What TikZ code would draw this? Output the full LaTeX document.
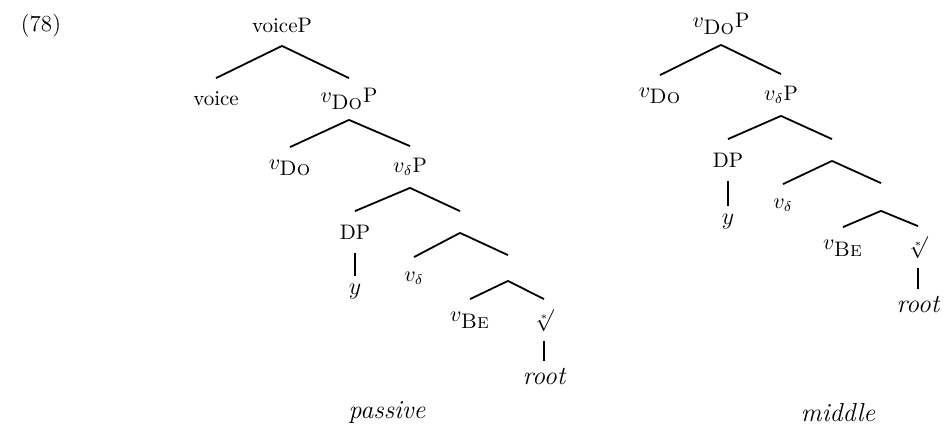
\documentclass[tikz,border=0pt]{standalone}
\begin{document}
\begin{tikzpicture}[x=0.5pt,y=-0.5pt,line width=0.9pt,
  cat/.style={inner sep=0pt,minimum height=20pt,font=\fontsize{10.5}{12}\selectfont},
  leaf/.style={inner sep=0pt,minimum height=15pt,font=\fontsize{13}{15}\selectfont\itshape},
  emptynode/.style={inner sep=0pt,minimum height=10pt},
  caption/.style={font=\fontsize{13}{15}\selectfont\itshape}]

\useasboundingbox (0,0) rectangle (944,429);

\node (ex) at (41,26) {\fontsize{11.5}{13}\selectfont (78)};

%%%%%%%%%%%%%%%%%%%%%%%%%%%%%%%%%%%%%%

\node[cat] (voiceP) at (282,25) {voiceP};
\node[cat] (voice) at (216,99) {voice};
\node[cat] (vDoPa) at (349,99) {$v_{\textsc{Do}}$P};
\node[cat] (vDoa) at (290,168) {$v_{\textsc{Do}}$};
\node[cat] (vdPa) at (410,167) {$v_\delta$P};
\node[cat] (DPa) at (355,232) {DP};
\node[emptynode] (xa) at (460,222) {};
\node[leaf] (ya) at (355,292) {$y$};
\node[cat] (vda) at (414,278) {$v_\delta$};
\node[emptynode,minimum height=12pt] (xb) at (508,268) {};
\node[cat] (vBea) at (470,320) {$v_{\textsc{Be}}$};
\node[cat] (sqa) at (544,320) {$\sqrt[\ast]{}$};
\node[leaf] (roota) at (544,377) {root};

\draw (voiceP.south) -- (voice.north);
\draw (voiceP.south) -- (vDoPa.north);
\draw (vDoPa.south) -- (vDoa.north);
\draw (vDoPa.south) -- (vdPa.north);
\draw (vdPa.south) -- (DPa.north);
\draw (vdPa.south) -- (xa.north);
\draw (DPa.south) -- (ya.north);
\draw (xa.south) -- (vda.north);
\draw (xa.south) -- (xb.north);
\draw (xb.south) -- (vBea.north);
\draw (xb.south) -- (sqa.north);
\draw (sqa.south) -- (roota.north);

\node[caption] (passive) at (387,413) {passive};

%%%%%%%%%%%%%%%%%%%%%%%%%%%%%%%%%%%%%%

\node[cat] (vDoPb) at (721,24) {$v_{\textsc{Do}}$P};
\node[cat] (vDob) at (660,96) {$v_{\textsc{Do}}$};
\node[cat] (vdPb) at (781,95) {$v_\delta$P};
\node[cat] (DPb) at (728,160) {DP};
\node[leaf] (yb) at (728,222) {$y$};
\node[emptynode] (xc) at (832,150) {};
\node[cat] (vdb) at (783,205) {$v_\delta$};
\node[emptynode,minimum height=13pt] (xd) at (881,197) {};
\node[cat] (vBeb) at (843,248) {$v_{\textsc{Be}}$};
\node[cat] (sqb) at (918,247) {$\sqrt[\ast]{}$};
\node[leaf] (rootb) at (918,305) {root};

\draw (vDoPb.south) -- (vDob.north);
\draw (vDoPb.south) -- (vdPb.north);
\draw (vdPb.south) -- (DPb.north);
\draw (vdPb.south) -- (xc.north);
\draw (DPb.south) -- (yb.north);
\draw (xc.south) -- (vdb.north);
\draw (xc.south) -- (xd.north);
\draw (xd.south) -- (vBeb.north);
\draw (xd.south) -- (sqb.north);
\draw (sqb.south) -- (rootb.north);

\node[caption] (middle) at (838,413) {middle};

\end{tikzpicture}
\end{document}
